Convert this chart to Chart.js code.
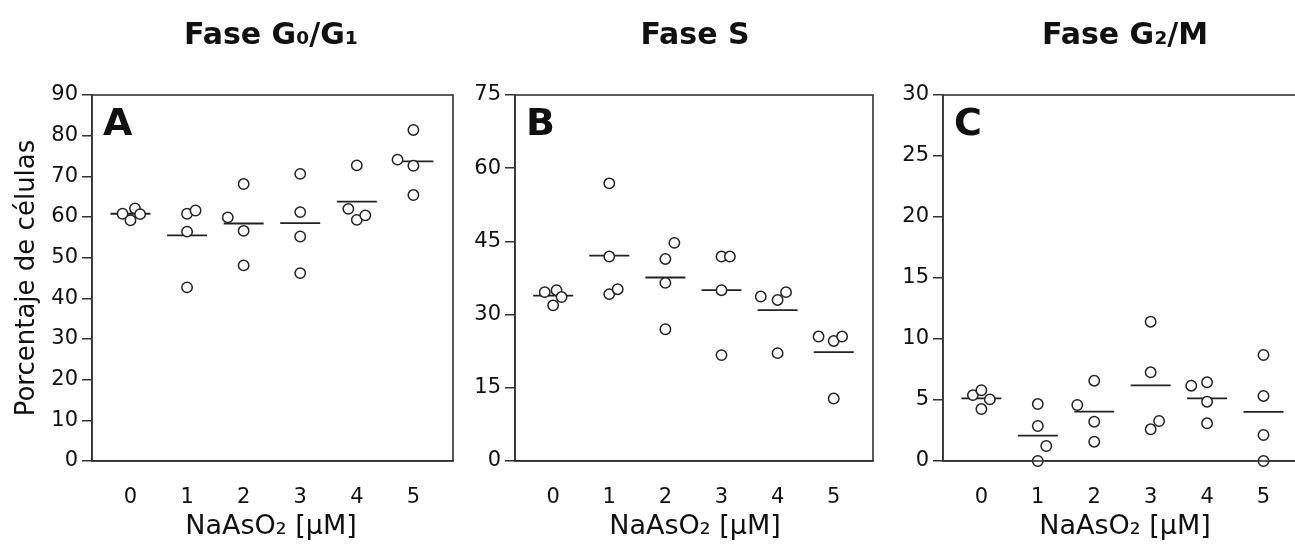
<!DOCTYPE html>
<html>
<head>
<meta charset="utf-8">
<script src="https://cdn.jsdelivr.net/npm/chart.js@4.4.0/dist/chart.umd.min.js"></script>
<style>
  html, body { margin: 0; padding: 0; background: #fff; overflow: hidden; width: 1295px; height: 546px; }
  .panel { position: absolute; top: 0; height: 546px; }
</style>
</head>
<body>
<div class="panel" style="left:0;width:542px"><canvas id="chartA"></canvas></div>
<div class="panel" style="left:470px;width:450px"><canvas id="chartB"></canvas></div>
<div class="panel" style="left:898px;width:454px"><canvas id="chartC"></canvas></div>
<script>
// NaAsO2 doses (uM)
const doses = [0, 1, 2, 3, 4, 5];

// Fase G0/G1 - single experiments (x = dose, nudged where circles sit side by side)
const g1X = [-0.14, 0.08, 0.17, 0,  1, 1.15, 1, 1,  2, 1.72, 2, 2,  3, 3, 3, 3,  4, 3.85, 4, 4.15,  5, 4.72, 5, 5];
const g1Y = [60.8, 62.1, 60.7, 59.2,  60.8, 61.6, 56.4, 42.7,  68.1, 59.9, 56.6, 48.1,  70.6, 61.2, 55.2, 46.2,  72.7, 62.0, 59.3, 60.4,  81.4, 74.1, 72.6, 65.4];
const g1Mean = [60.8, 55.5, 58.4, 58.5, 63.8, 73.7];

// Fase S
const sX = [-0.15, 0.06, 0.15, 0,  1, 1, 1, 1.15,  2.16, 2, 2, 2,  3, 3.15, 3, 3,  3.7, 4, 4.15, 4,  4.73, 5, 5.15, 5];
const sY = [34.6, 35.0, 33.6, 31.9,  56.9, 41.9, 34.2, 35.2,  44.7, 41.4, 36.5, 27.0,  41.9, 41.9, 35.0, 21.7,  33.7, 33.0, 34.6, 22.1,  25.5, 24.6, 25.5, 12.8];
const sMean = [33.9, 42.1, 37.6, 35.0, 30.9, 22.3];

// Fase G2/M
const g2X = [-0.15, 0, 0.15, 0,  1, 1, 1.15, 1,  1.7, 2, 2, 2,  3, 3, 3.15, 3,  3.72, 4, 4, 4,  5, 5, 5, 5];
const g2Y = [5.4, 5.8, 5.05, 4.26,  4.67, 2.87, 1.23, 0,  4.59, 6.58, 3.22, 1.58,  11.42, 7.27, 3.28, 2.6,  6.17, 6.45, 4.86, 3.09,  8.69, 5.33, 2.13, 0];
const g2Mean = [5.14, 2.08, 4.04, 6.2, 5.14, 4.02];

const font = 'DejaVu Sans, Verdana, sans-serif';
const ink = '#222';

// frame round the plot area (over the points like in the original) + panel letter
const boxPlugin = {
    id: 'box',
    afterDatasetsDraw(chart, args, opts) {
        const a = chart.chartArea, ctx = chart.ctx;
        ctx.save();
        ctx.strokeStyle = '#333';
        ctx.lineWidth = 1.6;
        ctx.strokeRect(a.left, a.top, a.right - a.left, a.bottom - a.top);
        ctx.fillStyle = '#111';
        ctx.font = 'bold 38px ' + font;
        ctx.textBaseline = 'alphabetic';
        ctx.textAlign = 'left';
        ctx.fillText(opts.letter, a.left + 11, a.top + 40);
        ctx.restore();
    }
};

function panel(id, letter, title, xs, ys, means, yMax, yStep, yWidth, rightWidth, yTitle) {
    new Chart(document.getElementById(id), {
        type: 'scatter',
        data: {
            datasets: [{
                data: xs.map((x, i) => ({ x: x, y: ys[i] })),
                pointRadius: 5.2,
                pointBorderWidth: 1.5,
                pointBorderColor: ink,
                pointBackgroundColor: '#fff',
                clip: false,
                order: 1
            }, {
                data: doses.map((d, i) => ({ x: d, y: means[i] })),
                pointStyle: 'line',
                pointRadius: 20,
                pointBorderWidth: 1.8,
                pointBorderColor: ink,
                clip: false,
                order: 2
            }]
        },
        options: {
            responsive: true,
            maintainAspectRatio: false,
            animation: false,
            plugins: {
                legend: { display: false },
                tooltip: { enabled: false },
                box: { letter: letter },
                title: {
                    display: true,
                    text: title,
                    color: '#111',
                    font: { family: font, size: 30, weight: 'bold' },
                    padding: { top: 18, bottom: 41 }
                },
                subtitle: {
                    display: true,
                    position: 'bottom',
                    text: 'NaAsO₂ [μM]',
                    color: '#111',
                    font: { family: font, size: 27 },
                    padding: { top: 0, bottom: 2.6 }
                }
            },
            scales: {
                x: {
                    type: 'linear',
                    min: -0.68,
                    max: 5.7,
                    afterBuildTicks: s => { s.ticks = doses.map(v => ({ value: v })); },
                    afterFit: s => { s.height = 50; },
                    grid: { display: false },
                    border: { display: true, color: '#333', width: 1.6 },
                    ticks: { color: '#111', font: { family: font, size: 21 }, padding: 16 }
                },
                y: {
                    min: 0,
                    max: yMax,
                    afterFit: s => { s.width = yWidth; },
                    grid: { drawOnChartArea: false, drawTicks: true, tickLength: 10, color: '#333', lineWidth: 1.5 },
                    border: { display: true, color: '#333', width: 1.6 },
                    ticks: { stepSize: yStep, color: '#111', font: { family: font, size: 21 }, padding: 4 },
                    title: {
                        display: !!yTitle,
                        text: yTitle || '',
                        color: '#111',
                        font: { family: font, size: 26 },
                        padding: { top: 12, bottom: 0 }
                    }
                },
                // empty right-hand spacer so the titles centre like the original
                yR: {
                    position: 'right',
                    display: true,
                    min: 0,
                    max: yMax,
                    afterFit: s => { s.width = rightWidth; },
                    grid: { display: false },
                    border: { display: false },
                    ticks: { display: false }
                }
            }
        },
        plugins: [boxPlugin]
    });
}

panel('chartA', 'A', 'Fase G₀/G₁', g1X, g1Y, g1Mean, 90, 10, 92, 89, 'Porcentaje de células');
panel('chartB', 'B', 'Fase S', sX, sY, sMean, 75, 15, 45, 47);
panel('chartC', 'C', 'Fase G₂/M', g2X, g2Y, g2Mean, 30, 5, 45, 49);
</script>
</body>
</html>
